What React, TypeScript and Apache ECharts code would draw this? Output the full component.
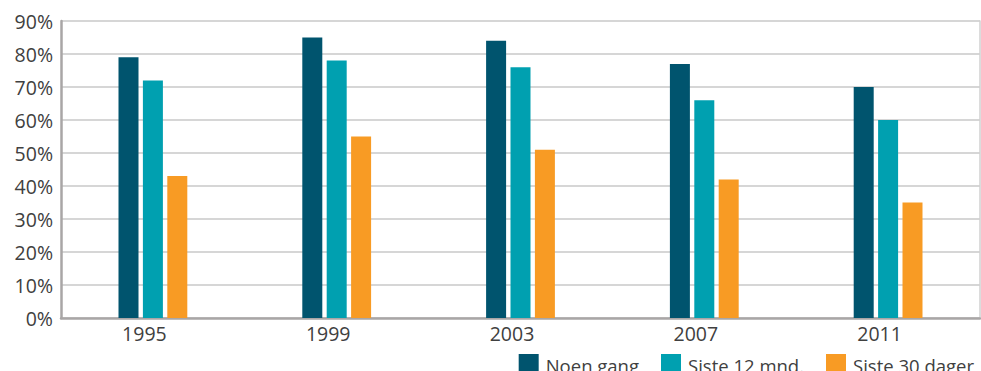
import React, { useEffect, useRef } from "react";
import * as echarts from "echarts";

const categories = ["1995", "1999", "2003", "2007", "2011"];
const seriesNames = ["Noen gang", "Siste 12 mnd.", "Siste 30 dager"];
const noenGang = [79, 85, 84, 77, 70];
const siste12 = [72, 78, 76, 66, 60];
const siste30 = [43, 55, 51, 42, 35];
const colors = ["#00546E", "#00A0B0", "#F89B24"];

const FONT = "Open Sans";

export default function App() {
  const ref = useRef<HTMLDivElement>(null);
  useEffect(() => {
    if (!ref.current) return;
    const chart = echarts.init(ref.current, null, { renderer: "svg" });
    const values = [noenGang, siste12, siste30];
    chart.setOption({
      animation: false,
      color: colors,
      textStyle: { fontFamily: FONT },
      grid: { left: 61, right: 1, top: 21, bottom: 53, containLabel: false },
      legend: {
        data: seriesNames,
        right: 2,
        top: 349,
        itemWidth: 20,
        itemHeight: 22,
        itemGap: 22,
        icon: "rect",
        textStyle: { fontFamily: FONT, fontSize: 18.5, color: "#404040", padding: [0, 0, 0, 2] },
      },
      xAxis: {
        type: "category",
        data: categories,
        axisTick: { show: false },
        axisLine: { lineStyle: { color: "#A9A6A6", width: 2.5 } },
        axisLabel: {
          fontFamily: FONT,
          fontSize: 19.5,
          color: "#404040",
          margin: 5,
          padding: [0, 17, 0, 0],
        },
      },
      yAxis: [
        {
          type: "value",
          min: 0,
          max: 90,
          interval: 10,
          axisLine: { show: true, lineStyle: { color: "#A9A6A6", width: 2.5 } },
          axisTick: { show: false },
          axisLabel: {
            fontFamily: FONT,
            fontSize: 19.5,
            color: "#404040",
            margin: 8,
            formatter: (v: number) => v + "%",
          },
          splitLine: { lineStyle: { color: "#C8C8C8", width: 1.5 } },
        },
        {
          type: "value",
          position: "right",
          min: 0,
          max: 90,
          interval: 10,
          axisLine: { show: true, lineStyle: { color: "#D0D0D0", width: 1.5 } },
          axisTick: { show: false },
          axisLabel: { show: false },
          splitLine: { show: false },
        },
      ],
      series: seriesNames.map((name, i) => ({
        name,
        type: "bar",
        data: values[i],
        barWidth: 20,
        barGap: "22%",
        yAxisIndex: 0,
      })),
    });
    return () => chart.dispose();
  }, []);
  return (
    <div
      ref={ref}
      style={{ position: "fixed", left: 0, top: 0, width: 981, height: 371, background: "#fff" }}
    />
  );
}
